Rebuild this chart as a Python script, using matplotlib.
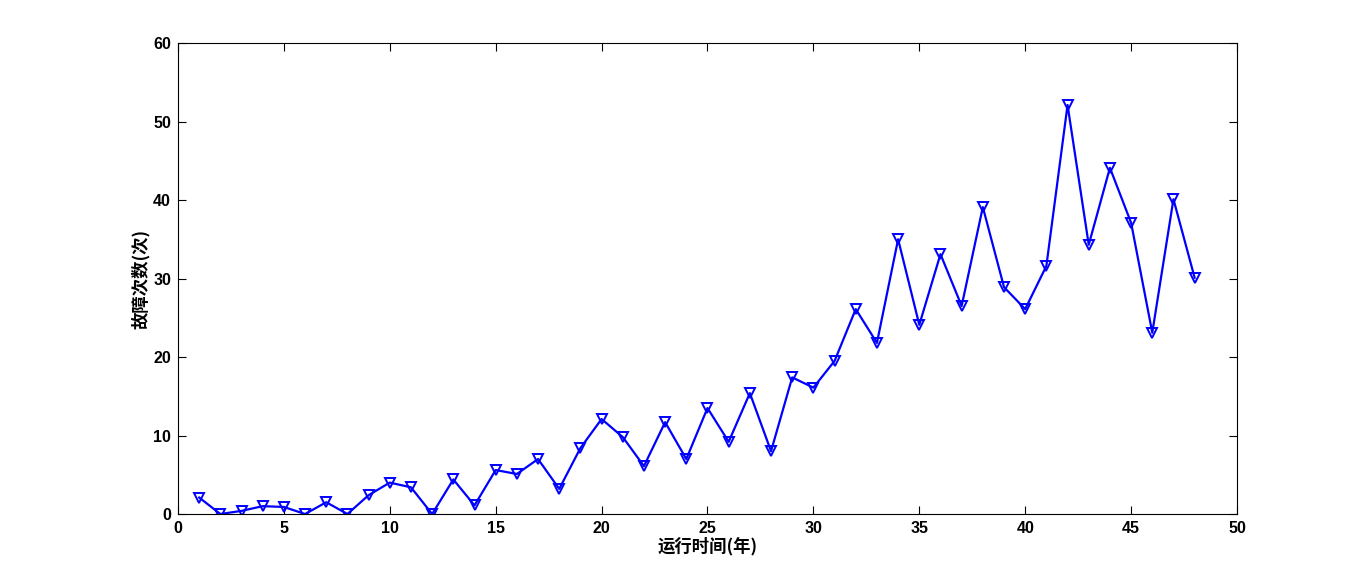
import matplotlib
matplotlib.use("Agg")
import matplotlib.pyplot as plt

# 运行时间(年) / 故障次数(次)
years = list(range(1, 49))
failures = [2.1, 0, 0.4, 1.0, 0.9, 0, 1.5, 0, 2.4, 4.0,
            3.4, 0, 4.4, 1.1, 5.6, 5.1, 7.0, 3.2, 8.4, 12.1,
            9.8, 6.1, 11.7, 7.0, 13.5, 9.2, 15.4, 8.0, 17.4, 16.1,
            19.5, 26.1, 21.8, 35.0, 24.1, 33.1, 26.5, 39.1, 28.9, 26.1,
            31.6, 52.1, 34.3, 44.1, 37.1, 23.1, 40.1, 30.1]

x_ticks = [0, 5, 10, 15, 20, 25, 30, 35, 40, 45, 50]
y_ticks = [0, 10, 20, 30, 40, 50, 60]

plt.rcParams['font.family'] = ['Liberation Sans', 'Noto Sans CJK SC', 'DejaVu Sans']

fig = plt.figure(figsize=(13.67, 5.78), dpi=100)
ax = fig.add_axes([0.1302, 0.1107, 0.7747, 0.8149])

ax.plot(years, failures, color=(0, 0, 1), linewidth=1.6, marker='v',
        markersize=7.5, markerfacecolor='none', markeredgecolor=(0, 0, 1),
        markeredgewidth=1.4)

ax.set_xlim(0, 50)
ax.set_ylim(0, 60)
ax.set_xticks(x_ticks)
ax.set_yticks(y_ticks)
ax.tick_params(direction='in', top=True, right=True, length=6, width=0.8,
               labelsize=11.5, pad=5)
for lab in ax.get_xticklabels() + ax.get_yticklabels():
    lab.set_fontweight('bold')
for s in ax.spines.values():
    s.set_linewidth(0.8)

ax.set_xlabel('运行时间(年)', family=['Noto Sans CJK SC', 'DejaVu Sans'],
              fontsize=12.5, fontweight='bold', labelpad=1)
ax.set_ylabel('故障次数(次)', family=['Noto Sans CJK SC', 'DejaVu Sans'],
              fontsize=12.5, fontweight='bold', labelpad=2)

fig.savefig('out.png', dpi=100)
